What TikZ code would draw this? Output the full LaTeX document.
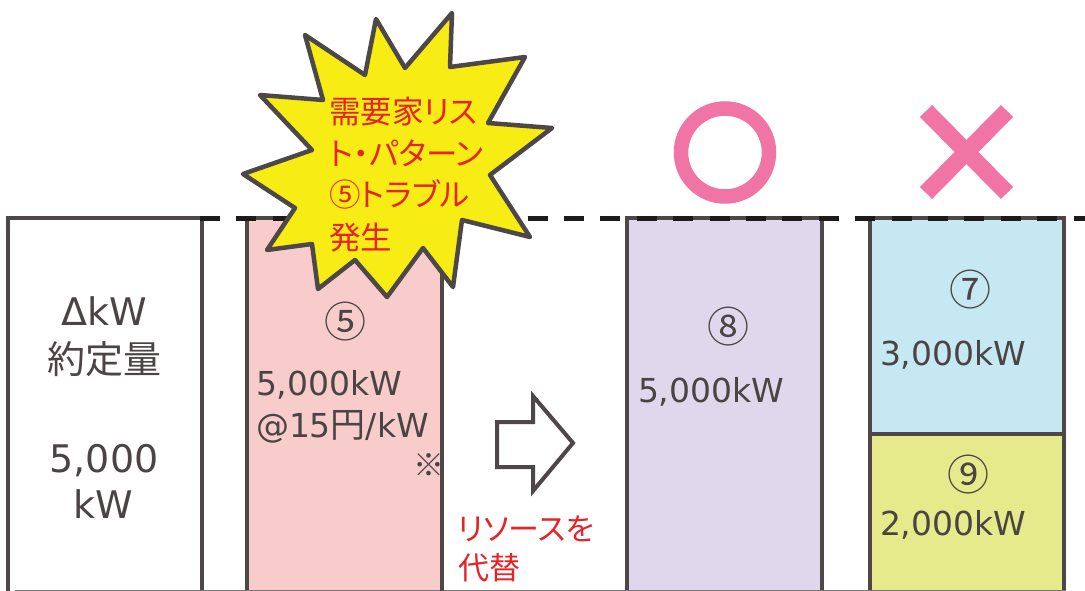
\documentclass[tikz,border=0pt]{standalone}
\usepackage{fontspec}
\setmainfont{DejaVu Sans}
\newfontfamily\jp{Noto Sans CJK JP}
\newfontfamily\jpp[RawFeature=+palt]{Noto Sans CJK JP}
\definecolor{edge}{RGB}{78,71,71}
\definecolor{txtgray}{RGB}{75,68,68}
\definecolor{pinkfill}{RGB}{249,204,204}
\definecolor{lavfill}{RGB}{223,216,236}
\definecolor{bluefill}{RGB}{197,232,242}
\definecolor{yelfill}{RGB}{230,234,138}
\definecolor{burstfill}{RGB}{247,236,19}
\definecolor{redtxt}{RGB}{232,35,40}
\definecolor{markpink}{RGB}{240,117,164}
\definecolor{dashblack}{RGB}{30,26,26}
\begin{document}
\begin{tikzpicture}[x=1pt,y=-1pt,
  box/.style={draw=edge,line width=4pt,anchor=north west,inner sep=0pt,outer sep=0pt},
  gtxt/.style={text=txtgray,inner sep=0pt,outer sep=0pt},
  big/.style={gtxt,font=\fontsize{38}{44}\selectfont},
  mid/.style={gtxt,font=\fontsize{33}{40}\selectfont},
  circ/.style={gtxt,font=\jp\fontsize{42}{48}\selectfont},
  redline/.style={text=redtxt,inner sep=0pt,outer sep=0pt,anchor=base west},
  burstfont/.style={font=\jpp\fontsize{31.5}{38}\selectfont},
  capfont/.style={font=\jpp\fontsize{31}{36}\selectfont},
  dashline/.style={draw=dashblack,line width=5pt,dash pattern=on 20pt off 16.4pt},
  burst/.style={draw=edge,fill=burstfill,line width=4.5pt,line join=round},
  blockarrow/.style={draw=edge,fill=white,line width=4pt,line join=miter},
  pinkmark/.style={draw=markpink}
]
\useasboundingbox[fill=white] (0,0) rectangle (1085,591);

% boxes
\node[box,fill=white,minimum width=194pt,minimum height=400pt] (b1) at (8,218) {};
\node[box,fill=pinkfill,minimum width=195pt,minimum height=400pt] (b2) at (247,218) {};
\node[box,fill=lavfill,minimum width=195pt,minimum height=400pt] (b8) at (627,218) {};
\node[box,fill=bluefill,minimum width=194pt,minimum height=216pt] (b7) at (870,218) {};
\node[box,fill=yelfill,minimum width=194pt,minimum height=200pt] (b9) at (870,434) {};

% bottom base line
\coordinate (bl) at (15,590.6);
\coordinate (br) at (1066,590.6);
\draw[edge!75,line width=1.2pt] (bl) -- (br);

% box 1 text
\node[big,anchor=base] (t1a) at (104,325) {ΔkW};
\node[big,anchor=center] (t1b) at (104,359) {\jp 約定量};
\node[big,anchor=base] (t1c) at (104,472) {5,000};
\node[big,anchor=base] (t1d) at (103,518) {kW};

% box 2 text
\node[circ,anchor=center] (c5) at (345,322) {⑤};
\node[mid,anchor=base west] (t2a) at (256,395) {5,000kW};
\node[mid,anchor=base west] (t2b) at (256,437) {@15{\jp\fontsize{35}{40}\selectfont 円}/kW};
\node[gtxt,font=\jp\fontsize{31}{36}\selectfont,anchor=center] (kome) at (429,465) {※};
\draw[edge,line width=4pt] (b2.north east) -- (b2.south east);

% box 8 text
\node[circ,anchor=center] (c8) at (728,327) {⑧};
\node[mid,anchor=base west] (t8) at (638,402) {5,000kW};

% box 7 text
\node[circ,anchor=center] (c7) at (970,290) {⑦};
\node[mid,anchor=base west] (t7) at (880,365) {3,000kW};

% box 9 text
\node[circ,anchor=center] (c9) at (968,475) {⑨};
\node[mid,anchor=base west] (t9) at (880,535) {2,000kW};

% dashed line
\coordinate (dl) at (200,218);
\coordinate (dr) at (1085,218);
\draw[dashline] (dl) -- (dr);

% starburst
\draw[burst] (376,19) -- (405,68) -- (452,13) -- (450,67) -- (525,57) -- (488,123)
  -- (552,128) -- (490,175) -- (530,237) -- (462,220) -- (453,287) -- (423,248)
  -- (387,297) -- (355,260) -- (318,289) -- (312,244) -- (267,250) -- (295,208)
  -- (243,174) -- (312,150) -- (260,95) -- (323,100) -- (305,35) -- (365,75) -- cycle;
\node[redline,burstfont] (s1) at (329,124) {需要家リス};
\node[redline,burstfont] (s2) at (329,166) {ト・パターン};
\node[redline,burstfont] (s3) at (329,207) {⑤トラブル};
\node[redline,burstfont] (s4) at (329,249) {発生};

% block arrow
\draw[blockarrow] (497,422) -- (533,422) -- (533,396) -- (573,443) -- (533,491)
  -- (533,467) -- (497,467) -- cycle;

% red caption
\node[redline,capfont] (r1) at (458,540) {リソースを};
\node[redline,capfont] (r2) at (458,579) {代替};

% circle and cross marks
\coordinate (oc) at (725,152.5);
\draw[pinkmark,line width=14.5pt] (oc) circle[radius=44pt];
\coordinate (xa) at (926,111);
\coordinate (xb) at (1007,193);
\coordinate (xc) at (1007,111);
\coordinate (xd) at (926,193);
\draw[pinkmark,line width=17pt] (xa) -- (xb);
\draw[pinkmark,line width=17pt] (xc) -- (xd);
\end{tikzpicture}
\end{document}
